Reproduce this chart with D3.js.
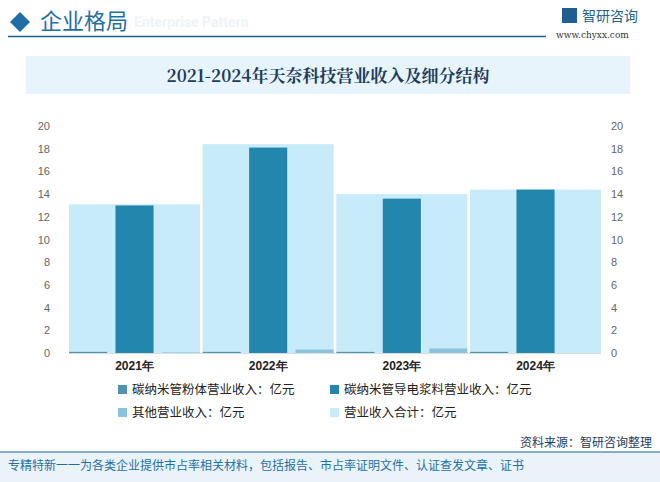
<!DOCTYPE html>
<html><head><meta charset="utf-8">
<script src="https://cdn.jsdelivr.net/npm/d3@7"></script>
<style>body{margin:0;background:#fff;font-family:"Noto Sans CJK SC",sans-serif}</style>
</head><body><div id="chart"></div>
<script>
const years = ["2021年", "2022年", "2023年", "2024年"];
const powder = [0.1, 0.1, 0.1, 0.1];
const paste = [13.0, 18.1, 13.6, 14.4];
const other = [0.05, 0.3, 0.4, 0];
const total = [13.1, 18.4, 14.0, 14.4];
const ticks = [0, 2, 4, 6, 8, 10, 12, 14, 16, 18, 20];
const seriesNames = ["碳纳米管粉体营业收入：亿元", "碳纳米管导电浆料营业收入：亿元", "其他营业收入：亿元", "营业收入合计：亿元"];
const colors = ["#4f93b0", "#2387ad", "#8ac3db", "#c8ebfa"];

const W = 660, H = 482;
const svg = d3.select("#chart").append("svg").attr("width", W).attr("height", H);

// header
svg.append("path").attr("d", "M20,12 L30,22 L20,32 L10,22 Z").attr("fill", "#1f6fa6");
svg.append("text").attr("x", 40).attr("y", 29).text("企业格局").attr("font-size", 22).attr("fill", "#1f6fa6");
svg.append("text").attr("x", 134).attr("y", 27).text("Enterprise Pattern").attr("font-size", 14)
  .attr("font-weight", "bold").attr("fill", "#eef4f8").attr("font-family", "Roboto");
svg.append("line").attr("x1", 8).attr("x2", 546).attr("y1", 36.5).attr("y2", 36.5).attr("stroke", "#1f5f8f").attr("stroke-width", 1.3);
svg.append("rect").attr("x", 562).attr("y", 8).attr("width", 15).attr("height", 15).attr("fill", "#1f5f8f");
svg.append("text").attr("x", 582).attr("y", 21).text("智研咨询").attr("font-size", 14).attr("fill", "#1f5f8f");
svg.append("text").attr("x", 556).attr("y", 38).text("www.chyxx.com").attr("font-size", 9).attr("fill", "#333").attr("font-family", "DejaVu Serif");

svg.append("rect").attr("x", 26).attr("y", 56).attr("width", 604).attr("height", 38).attr("fill", "#e7f4fb");
svg.append("text").attr("x", 328).attr("y", 82).attr("text-anchor", "middle").text("2021-2024年天奈科技营业收入及细分结构")
  .attr("font-size", 17).attr("font-weight", "bold").attr("fill", "#1d3c5a").attr("font-family", "Noto Serif CJK SC, serif");

// plot
const x = d3.scaleBand().domain(years).range([69, 601]).paddingInner(0.02);
const y = d3.scaleLinear().domain([0, 20]).range([353, 126]);
const sub = d3.scaleBand().domain([0, 1, 2]).range([0, x.bandwidth()]).paddingInner(0.18);

const yl = d3.axisLeft(y).tickValues(ticks).tickSize(0).tickPadding(10);
const yr = d3.axisRight(y).tickValues(ticks).tickSize(0).tickPadding(10);
svg.append("g").attr("transform", "translate(60,0)").call(yl)
  .call(g => g.select(".domain").remove()).selectAll("text").attr("font-size", 11).attr("fill", "#666");
svg.append("g").attr("transform", "translate(601,0)").call(yr)
  .call(g => g.select(".domain").remove()).selectAll("text").attr("font-size", 11).attr("fill", "#666");

svg.selectAll(".tot").data(total).enter().append("rect")
  .attr("x", (d, i) => x(years[i])).attr("width", x.bandwidth())
  .attr("y", d => y(d)).attr("height", d => y(0) - y(d)).attr("fill", colors[3]);

[powder, paste, other].forEach((arr, s) => {
  svg.selectAll(".s" + s).data(arr).enter().append("rect")
    .attr("x", (d, i) => x(years[i]) + sub(s)).attr("width", sub.bandwidth())
    .attr("y", d => y(d)).attr("height", d => y(0) - y(d)).attr("fill", colors[s]);
});

svg.append("line").attr("x1", 69).attr("x2", 601).attr("y1", 353.5).attr("y2", 353.5).attr("stroke", "#ddd");

const xa = d3.axisBottom(x).tickSize(0).tickPadding(8);
svg.append("g").attr("transform", "translate(0,353)").call(xa)
  .call(g => g.select(".domain").remove()).selectAll("text")
  .attr("font-size", 12).attr("font-weight", "bold").attr("fill", "#222");

// legend
const legPos = [[118, 393], [330, 393], [118, 416], [330, 416]];
seriesNames.forEach((n, i) => {
  svg.append("rect").attr("x", legPos[i][0]).attr("y", legPos[i][1] - 8).attr("width", 9).attr("height", 9).attr("fill", colors[i]);
  svg.append("text").attr("x", legPos[i][0] + 14).attr("y", legPos[i][1] + 1).text(n).attr("font-size", 12.5).attr("fill", "#222");
});

// footer
svg.append("text").attr("x", 652).attr("y", 447).attr("text-anchor", "end").text("资料来源：智研咨询整理").attr("font-size", 12).attr("fill", "#1d3c5a");
svg.append("rect").attr("x", 0).attr("y", 452).attr("width", W).attr("height", 30).attr("fill", "#eaf3f8");
svg.append("line").attr("x1", 0).attr("x2", W).attr("y1", 452).attr("y2", 452).attr("stroke", "#1f5f8f");
svg.append("text").attr("x", 8).attr("y", 470).text("专精特新一一为各类企业提供市占率相关材料，包括报告、市占率证明文件、认证查发文章、证书")
  .attr("font-size", 12).attr("fill", "#1f6fa6");
</script></body></html>
